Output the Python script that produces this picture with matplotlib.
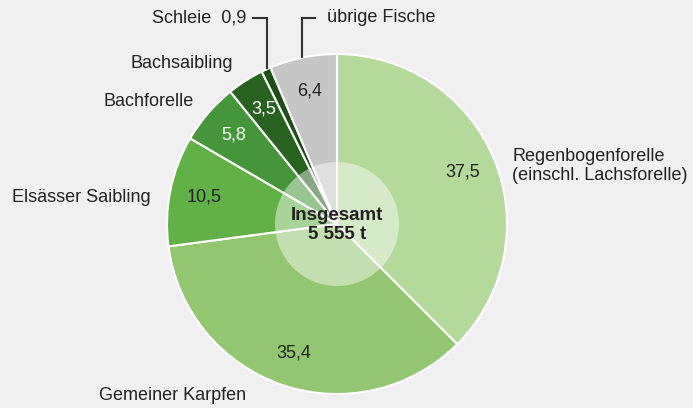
import numpy as np
import matplotlib
matplotlib.use("Agg")
from matplotlib import pyplot as plt
from matplotlib.patches import Circle

# shares of aquaculture production (percent), clockwise from 12 o'clock
species = ["Regenbogenforelle\n(einschl. Lachsforelle)", "Gemeiner Karpfen",
           "Elsässer Saibling", "Bachforelle", "Bachsaibling", "Schleie", "übrige Fische"]
shares = [37.5, 35.4, 10.5, 5.8, 3.5, 0.9, 6.4]
value_labels = ["37,5", "35,4", "10,5", "5,8", "3,5", "", "6,4"]
colors = ["#b5d89b", "#93c671", "#62b146", "#45963a", "#27621f", "#1d4f17", "#c6c6c7"]
value_colors = ["#222222", "#222222", "#222222", "white", "white", "white", "#222222"]
total_text = "Insgesamt\n5 555 t"

W, H = 693, 408
FS = 13
plt.rcParams["font.family"] = ["Liberation Sans", "DejaVu Sans"]
fig = plt.figure(figsize=(W / 100, H / 100), dpi=100, facecolor="#f0f0f0")
ax = fig.add_axes([0, 0, 1, 1])

cx, cy, r = 337, H - 224, 170
wedges, _ = ax.pie(shares, colors=colors, startangle=90, counterclock=False,
                   center=(cx, cy), radius=r, frame=True,
                   wedgeprops=dict(edgecolor="white", linewidth=1.5))
ax.set_xlim(0, W)
ax.set_ylim(0, H)
ax.set_aspect("equal")
ax.axis("off")

# value labels inside slices
for w, txt, c in zip(wedges, value_labels, value_colors):
    ang = np.deg2rad((w.theta1 + w.theta2) / 2)
    ax.text(cx + 0.8 * r * np.cos(ang), cy + 0.8 * r * np.sin(ang), txt,
            ha="center", va="center", fontsize=FS, color=c)

# translucent centre disc
ax.add_patch(Circle((cx, cy), 62, facecolor="white", alpha=0.45, edgecolor="none"))
ax.text(cx, cy - 1, total_text, ha="center", va="center", fontsize=13.5,
        fontweight="bold", color="#222222", linespacing=1.15)

# category labels
lab = dict(va="center", fontsize=FS, color="#222222")
ax.text(512, H - 166, species[0], ha="left", linespacing=1.2, **lab)
ax.text(99, H - 395, species[1], ha="left", **lab)
ax.text(151, H - 197, species[2], ha="right", **lab)
ax.text(194, H - 102, species[3], ha="right", **lab)
ax.text(233, H - 63, species[4], ha="right", **lab)
ax.text(246, H - 18, species[5] + "  0,9", ha="right", **lab)
ax.text(327, H - 18, species[6], ha="left", **lab)

# leader lines for the narrow slices
for w, x_lab, x_end in [(wedges[5], 267, 253), (wedges[6], 302, 315)]:
    dx = x_lab - cx
    y_rim = cy + np.sqrt(r ** 2 - dx ** 2)
    ax.plot([x_lab, x_lab, x_end], [y_rim + 1, H - 18, H - 18], color="#333333", lw=1.5,
            solid_joinstyle="miter")

fig.savefig("out.png", dpi=100, facecolor=fig.get_facecolor())
